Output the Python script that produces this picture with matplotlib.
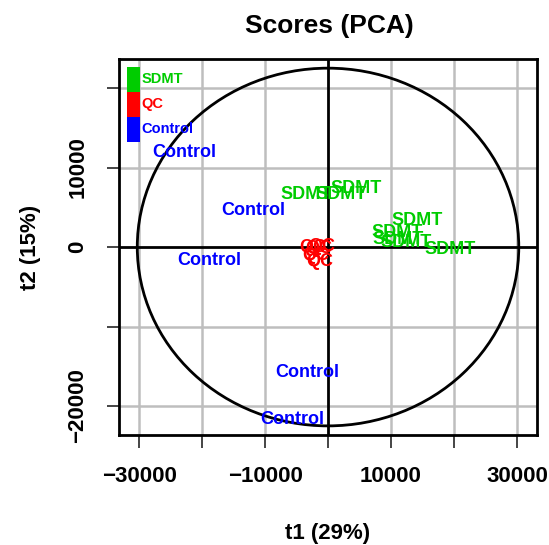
import numpy as np
import matplotlib
matplotlib.use("Agg")
import matplotlib.pyplot as plt
from matplotlib.patches import Ellipse, Rectangle

plt.rcParams['font.family'] = ['Liberation Sans', 'DejaVu Sans']
plt.rcParams['font.weight'] = 'bold'

# scores
control_t1 = [-22860, -11900, -18890, -3330, -5710]
control_t2 = [11850, 4580, -1690, -15740, -21760]

sdmt_t1 = [-3490, 2060, 4440, 14130, 10950, 11110, 12380, 19370]
sdmt_t2 = [6580, 6580, 7340, 3320, 1820, 940, 560, -310]

qc_t1 = [-2380, -1430, -950, -1900, -1270]
qc_t2 = [-60, -190, 60, -1070, -1820]

groups = ['SDMT', 'QC', 'Control']
colors = {'SDMT': '#00CC00', 'QC': '#FF0000', 'Control': '#0000FF'}

xticks = [-30000, -20000, -10000, 0, 10000, 20000, 30000]
xticklabels = ['\u221230000', '', '\u221210000', '', '10000', '', '30000']
yticks = [-20000, -10000, 0, 10000, 20000]
yticklabels = ['\u221220000', '', '0', '10000', '']

ell_a, ell_b = 30300, 22500  # ellipse half axes

fig = plt.figure(figsize=(5.49, 5.45), dpi=100)
ax = fig.add_axes([0.2168, 0.2018, 0.7614, 0.6899])
ax.set_xlim(-33200, 33200)
ax.set_ylim(-23650, 23650)

# grid
for x in xticks:
    if x != 0:
        ax.axvline(x, color='#BEBEBE', lw=1.8, zorder=1)
for y in yticks:
    if y != 0:
        ax.axhline(y, color='#BEBEBE', lw=1.8, zorder=1)
ax.axvline(0, color='black', lw=2.0, zorder=2)
ax.axhline(0, color='black', lw=2.0, zorder=2)

ax.add_patch(Ellipse((0, 0), 2 * ell_a, 2 * ell_b, fill=False, ec='black', lw=2.0, zorder=2))

for t1, t2 in zip(control_t1, control_t2):
    ax.text(t1, t2, 'Control', color=colors['Control'], fontsize=13, fontweight='bold',
            ha='center', va='center', zorder=3)
for t1, t2 in zip(sdmt_t1, sdmt_t2):
    ax.text(t1, t2, 'SDMT', color=colors['SDMT'], fontsize=13, fontweight='bold',
            ha='center', va='center', zorder=3)
for t1, t2 in zip(qc_t1, qc_t2):
    ax.text(t1, t2, 'QC', color=colors['QC'], fontsize=13, fontweight='bold',
            ha='center', va='center', zorder=3)

# legend as coloured blocks
top = 0.979
h = 0.0665
for i, g in enumerate(groups):
    y0 = top - (i + 1) * h
    ax.add_patch(Rectangle((0.019, y0), 0.031, h, transform=ax.transAxes,
                           color=colors[g], lw=0, zorder=4))
    ax.text(0.053, y0 + h / 2, g, transform=ax.transAxes, color=colors[g],
            fontsize=10.5, fontweight='bold', ha='left', va='center', zorder=4)

ax.set_xticks(xticks)
ax.set_xticklabels(xticklabels)
ax.set_yticks(yticks)
ax.set_yticklabels(yticklabels, rotation=90, va='center')
ax.tick_params(axis='both', length=9, width=1.4, color='#444444', labelsize=16, pad=13)

for s in ax.spines.values():
    s.set_linewidth(2.0)

ax.set_xlabel('t1 (29%)', fontsize=16, fontweight='bold', va='center')
ax.xaxis.set_label_coords(0.5, -(533 - 435) / 376)
ax.set_ylabel('t2 (15%)', fontsize=16, fontweight='bold', va='center')
ax.yaxis.set_label_coords(-(119 - 30) / 418, 0.5)

fig.text(329 / 549, 1 - 26 / 545, 'Scores (PCA)', fontsize=19, fontweight='bold',
         ha='center', va='center')

fig.savefig('out.png', dpi=100)
